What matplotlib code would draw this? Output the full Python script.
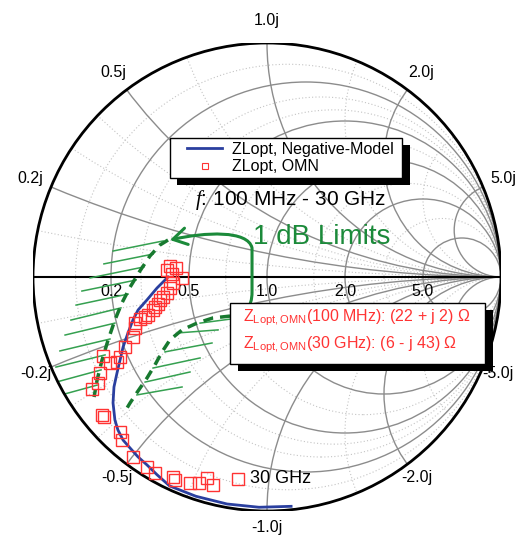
import numpy as np
import matplotlib.pyplot as plt
from matplotlib.patches import Circle, Rectangle, FancyArrowPatch
from matplotlib.path import Path
from matplotlib.lines import Line2D

plt.rcParams['font.family'] = ['Liberation Sans', 'DejaVu Sans']
plt.rcParams['mathtext.fontset'] = 'custom'
plt.rcParams['mathtext.rm'] = 'Liberation Sans'
plt.rcParams['mathtext.it'] = 'Liberation Serif:italic'

Z0 = 50.0

# end points of the OMN sweep (ohm)
Z_100MHZ = (22, 2)
Z_30GHZ = (6, -43)

# reflection coefficient of the OMN optimum load, 100 MHz end and 30 GHz end excluded
omn_re = [-0.427, -0.406, -0.415, -0.363, -0.402, -0.415, -0.427, -0.444, -0.457,
          -0.466, -0.479, -0.487, -0.509, -0.521, -0.543, -0.564, -0.564, -0.573,
          -0.607, -0.628, -0.641, -0.671, -0.701, -0.714, -0.722, -0.748, -0.705,
          -0.697, -0.628, -0.620, -0.573, -0.513, -0.479, -0.402, -0.393, -0.329,
          -0.291, -0.256, -0.231]
omn_im = [0.030, 0.013, 0.047, -0.004, -0.026, -0.047, -0.068, -0.085, -0.098,
          -0.115, -0.128, -0.141, -0.162, -0.171, -0.179, -0.197, -0.218, -0.256,
          -0.299, -0.342, -0.363, -0.368, -0.338, -0.410, -0.453, -0.479, -0.590,
          -0.598, -0.662, -0.697, -0.769, -0.812, -0.838, -0.855, -0.868, -0.880,
          -0.880, -0.859, -0.889]

# optimum load from the negative-resistance model
model_re = [-0.423, -0.470, -0.513, -0.551, -0.573, -0.594, -0.615, -0.628, -0.641,
            -0.654, -0.658, -0.650, -0.637, -0.615, -0.585, -0.551, -0.513, -0.470,
            -0.416, -0.304, -0.171, -0.034, 0.103]
model_im = [0.000, -0.047, -0.098, -0.141, -0.184, -0.239, -0.299, -0.355, -0.410,
            -0.470, -0.538, -0.611, -0.654, -0.697, -0.731, -0.769, -0.803, -0.845,
            -0.893, -0.937, -0.970, -0.984, -0.980]

# 1 dB limit contours
lim1_re = [-0.423, -0.457, -0.500, -0.543, -0.585, -0.620, -0.650, -0.679, -0.705, -0.726, -0.739]
lim1_im = [0.158, 0.137, 0.090, 0.026, -0.043, -0.111, -0.184, -0.269, -0.355, -0.440, -0.513]
lim2_re = [-0.158, -0.231, -0.299, -0.363, -0.415, -0.449, -0.479, -0.513, -0.551, -0.585, -0.611]
lim2_im = [-0.167, -0.175, -0.197, -0.226, -0.269, -0.321, -0.376, -0.432, -0.487, -0.538, -0.581]

# hatching on the excluded side of each contour: (start_re, start_im, end_re, end_im)
hatch1 = [(-0.444, 0.154, -0.658, 0.111), (-0.487, 0.098, -0.697, 0.056),
          (-0.526, 0.043, -0.756, -0.004), (-0.560, -0.013, -0.791, -0.060),
          (-0.594, -0.073, -0.816, -0.120), (-0.624, -0.132, -0.838, -0.184),
          (-0.650, -0.197, -0.863, -0.248), (-0.671, -0.265, -0.885, -0.316),
          (-0.692, -0.333, -0.902, -0.385), (-0.709, -0.397, -0.915, -0.453),
          (-0.726, -0.462, -0.927, -0.517)]
hatch2 = [(-0.286, -0.197, -0.150, -0.179), (-0.380, -0.239, -0.209, -0.226),
          (-0.436, -0.320, -0.235, -0.282), (-0.487, -0.389, -0.286, -0.346),
          (-0.521, -0.449, -0.329, -0.406), (-0.556, -0.504, -0.363, -0.470)]

r_major = [0.2, 0.5, 1.0, 2.0, 5.0]
x_major = [0.2, 0.5, 1.0, 2.0, 5.0]
r_minor = [0.1, 0.3, 0.4, 0.7, 1.5, 3.0]
x_minor = [0.1, 0.3, 0.4, 0.7, 1.5, 3.0]

BLUE = '#2a3f9f'
RED = '#ff3333'
GREEN = '#1b8a3a'
DKGREEN = '#17792f'
LTGREEN = '#35a050'


def gamma(z_ohm):
    z = complex(*z_ohm) / Z0
    return (z - 1) / (z + 1)


def z_text(z_ohm):
    r, x = z_ohm
    sign = '+' if x >= 0 else '-'
    return '({} {} j {}) \u03a9'.format(r, sign, abs(x))


def shadow_box(x0, y0, x1, y1):
    # white box with a hard black drop shadow
    ax.add_patch(Rectangle((x0 + 0.032, y0 - 0.030), x1 - x0, y1 - y0,
                           fc='black', ec='none', zorder=5.9, clip_on=False))
    ax.add_patch(Rectangle((x0, y0), x1 - x0, y1 - y0, fc='white', ec='black', lw=1.0,
                           zorder=6, clip_on=False))


fig = plt.figure(figsize=(5.31, 5.36), dpi=100)
ax = fig.add_axes([33 / 531, 25 / 536, 468 / 531, 468 / 536])
ax.set_xlim(-1, 1)
ax.set_ylim(-1, 1)
ax.axis('off')

unit = Circle((0, 0), 1, fill=False, ec='black', lw=2, zorder=3)
ax.add_patch(unit)
clip = Circle((0, 0), 1, transform=ax.transData)

# Smith chart grid
for r in r_minor:
    c = Circle((r / (1 + r), 0), 1 / (1 + r), fill=False, ec='#c4c4c4', lw=0.8,
               ls=(0, (1, 2)), zorder=1)
    ax.add_patch(c)
for x in x_minor:
    for s in (1, -1):
        c = Circle((1, s / x), 1 / x, fill=False, ec='#c4c4c4', lw=0.8,
                   ls=(0, (1, 2)), zorder=1)
        ax.add_patch(c)
        c.set_clip_path(clip)
for r in r_major:
    c = Circle((r / (1 + r), 0), 1 / (1 + r), fill=False, ec='#8c8c8c', lw=1.0, zorder=1.5)
    ax.add_patch(c)
for x in x_major:
    for s in (1, -1):
        c = Circle((1, s / x), 1 / x, fill=False, ec='#8c8c8c', lw=1.0, zorder=1.5)
        ax.add_patch(c)
        c.set_clip_path(clip)
ax.plot([-1, 1], [0, 0], color='black', lw=1.5, zorder=2)

# axis labels
for r in r_major:
    ax.text((r - 1) / (r + 1), -0.06, '{:.1f}'.format(r), ha='center', va='center',
            fontsize=11.5, zorder=2.5)
for x in x_major:
    th = np.pi - 2 * np.arctan(x)
    for s, rad in ((1, 1.095), (-1, 1.07)):
        lab = '{:.1f}j'.format(s * x)
        ax.text(rad * np.cos(th), s * rad * np.sin(th), lab, ha='center', va='center',
                fontsize=11.5, zorder=2.5, clip_on=False)

# 1 dB limits with hatching
ax.plot(lim1_re, lim1_im, color=DKGREEN, lw=2.5, ls=(0, (2.9, 2.0)), zorder=3)
ax.plot(lim2_re, lim2_im, color=DKGREEN, lw=2.5, ls=(0, (2.9, 2.0)), zorder=3)
for h in hatch1 + hatch2:
    ln, = ax.plot([h[0], h[2]], [h[1], h[3]], color=LTGREEN, lw=1.1, zorder=2.8)
    ln.set_clip_path(clip)

# data
ax.plot(model_re, model_im, color=BLUE, lw=2, zorder=4)
g0 = gamma(Z_100MHZ)
g1 = gamma(Z_30GHZ)
pts_re = [g0.real] + omn_re + [g1.real]
pts_im = [g0.imag] + omn_im + [g1.imag]
ax.plot(pts_re, pts_im, ls='none', marker='s', ms=8.5, mfc='none', mec=RED, mew=1.0,
        zorder=4.5)

# bracket arrow pointing at both limits
verts = [(-0.415, 0.158), (-0.265, 0.192), (-0.081, 0.201), (-0.064, 0.124),
         (-0.064, -0.064), (-0.064, -0.132), (-0.094, -0.158), (-0.162, -0.167)]
codes = [Path.MOVETO, Path.CURVE4, Path.CURVE4, Path.CURVE4,
         Path.LINETO, Path.CURVE4, Path.CURVE4, Path.CURVE4]
arr = FancyArrowPatch(path=Path(verts, codes), arrowstyle='<->,head_length=0.5,head_width=0.3',
                      mutation_scale=20, color=GREEN, lw=2.2, zorder=5)
ax.add_patch(arr)

ax.text(-0.060, 0.171, '1 dB Limits', color=GREEN, fontsize=20, ha='left', va='center', zorder=5)
ax.text(-0.308, 0.329, r'$f$: 100 MHz - 30 GHz', fontsize=15, ha='left', va='center', zorder=5)
ax.text(-0.073, -0.859, '30 GHz', fontsize=13, ha='left', va='center', zorder=5)

# legend
shadow_box(-0.415, 0.423, 0.577, 0.594)
handles = [Line2D([], [], color=BLUE, lw=2),
           Line2D([], [], ls='none', marker='s', ms=5, mfc='none', mec=RED, mew=0.8)]
leg = ax.legend(handles, ['ZLopt, Negative-Model', 'ZLopt, OMN'], loc='center left',
                bbox_to_anchor=(-0.362, 0.5085), bbox_transform=ax.transData,
                frameon=False, fontsize=11.5, borderaxespad=0, handlelength=2.2,
                borderpad=0.3, labelspacing=0.15, handletextpad=0.63)
leg.set_zorder(7)

# end point annotation box
shadow_box(-0.158, -0.372, 0.932, -0.111)
zname = r'$\mathregular{Z_{Lopt,OMN}}$'
ax.text(-0.103, -0.175, zname + '(100 MHz): ' + z_text(Z_100MHZ), color=RED,
        fontsize=11.5, ha='left', va='center', zorder=7)
ax.text(-0.103, -0.291, zname + '(30 GHz): ' + z_text(Z_30GHZ), color=RED,
        fontsize=11.5, ha='left', va='center', zorder=7)

fig.savefig('out.png', dpi=100)
